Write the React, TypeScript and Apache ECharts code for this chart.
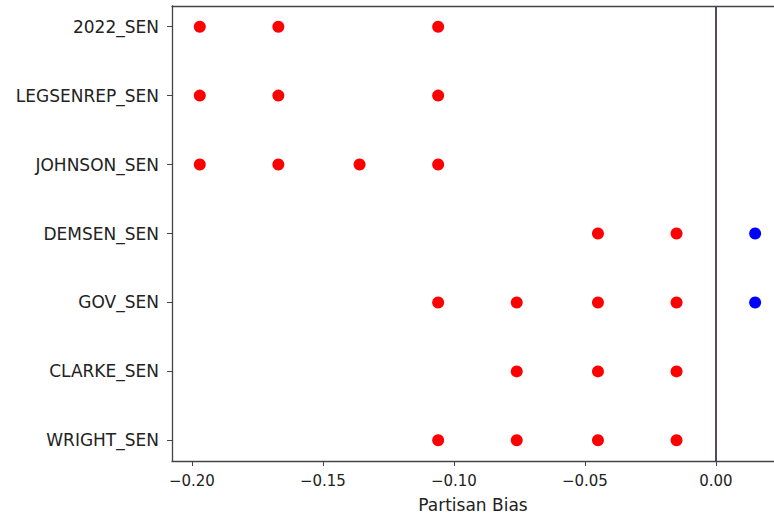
import React, { useEffect, useRef } from "react";
import * as echarts from "echarts";

const categories = [
  "2022_SEN",
  "LEGSENREP_SEN",
  "JOHNSON_SEN",
  "DEMSEN_SEN",
  "GOV_SEN",
  "CLARKE_SEN",
  "WRIGHT_SEN",
];

const redValues: number[][] = [
  [-0.197, -0.167, -0.106],
  [-0.197, -0.167, -0.106],
  [-0.197, -0.167, -0.136, -0.106],
  [-0.045, -0.015],
  [-0.106, -0.076, -0.045, -0.015],
  [-0.076, -0.045, -0.015],
  [-0.106, -0.076, -0.045, -0.015],
];

const blueValues: number[][] = [[], [], [], [0.015], [0.015], [], []];

const xTicks = [-0.2, -0.15, -0.1, -0.05, 0];
const yTicks = [0, 1, 2, 3, 4, 5, 6];
const zeroLine = 0;

const X_MIN = -0.2076;
const X_MAX = 0.0222;

const FONT = "DejaVu Sans";

function fmtX(v: number): string {
  const r = Math.round(v * 100) / 100;
  if (r < 0) return "\u2212" + Math.abs(r).toFixed(2);
  return Math.abs(r).toFixed(2);
}

export default function App() {
  const ref = useRef<HTMLDivElement>(null);
  useEffect(() => {
    if (!ref.current) return;
    const chart = echarts.init(ref.current, undefined, { renderer: "svg" });
    const redData: number[][] = [];
    redValues.forEach((arr, i) => arr.forEach((v) => redData.push([v, i])));
    const blueData: number[][] = [];
    blueValues.forEach((arr, i) => arr.forEach((v) => blueData.push([v, i])));
    chart.setOption({
      animation: false,
      backgroundColor: "#ffffff",
      grid: {
        left: 172,
        top: 6,
        right: 0,
        bottom: 57,
        show: false,
      },
      xAxis: [
        {
          type: "value",
          position: "bottom",
          min: X_MIN,
          max: X_MAX,
          name: "Partisan Bias",
          nameLocation: "middle",
          nameGap: 35,
          nameTextStyle: { fontFamily: FONT, fontSize: 17, color: "#222" },
          splitLine: { show: false },
          axisLine: {
            show: true,
            onZero: false,
            lineStyle: { color: "#444", width: 1.3 },
          },
          axisTick: {
            show: true,
            inside: false,
            length: 5,
            customValues: xTicks,
            lineStyle: { color: "#444" },
          },
          axisLabel: {
            customValues: xTicks,
            formatter: (v: number) => fmtX(v),
            fontFamily: FONT,
            fontSize: 15,
            color: "#222",
            margin: 12,
          },
        },
        {
          type: "value",
          position: "top",
          min: X_MIN,
          max: X_MAX,
          splitLine: { show: false },
          axisLine: {
            show: true,
            onZero: false,
            lineStyle: { color: "#444", width: 1.3 },
          },
          axisTick: { show: false },
          axisLabel: { show: false },
        },
      ],
      yAxis: {
        type: "value",
        inverse: true,
        min: -0.3,
        max: 6.3,
        splitLine: { show: false },
        axisLine: {
          show: true,
          onZero: false,
          lineStyle: { color: "#444", width: 1.3 },
        },
        axisTick: {
          show: true,
          inside: false,
          length: 5,
          customValues: yTicks,
          lineStyle: { color: "#444" },
        },
        axisLabel: {
          customValues: yTicks,
          formatter: (v: number) => categories[Math.round(v)] ?? "",
          fontFamily: FONT,
          fontSize: 17,
          color: "#222",
          margin: 13,
        },
      },
      series: [
        {
          type: "scatter",
          xAxisIndex: 0,
          data: redData,
          symbolSize: 12,
          itemStyle: { color: "#ff0000", opacity: 1 },
          markLine: {
            silent: true,
            symbol: "none",
            label: { show: false },
            lineStyle: { color: "#55476a", width: 2, type: "solid" },
            data: [{ xAxis: zeroLine }],
          },
          z: 3,
        },
        {
          type: "scatter",
          xAxisIndex: 0,
          data: blueData,
          symbolSize: 12,
          itemStyle: { color: "#0000ff", opacity: 1 },
          z: 3,
        },
      ],
    });
    return () => chart.dispose();
  }, []);
  return (
    <div
      ref={ref}
      style={{ position: "fixed", left: 0, top: 0, width: 774, height: 518 }}
    />
  );
}
